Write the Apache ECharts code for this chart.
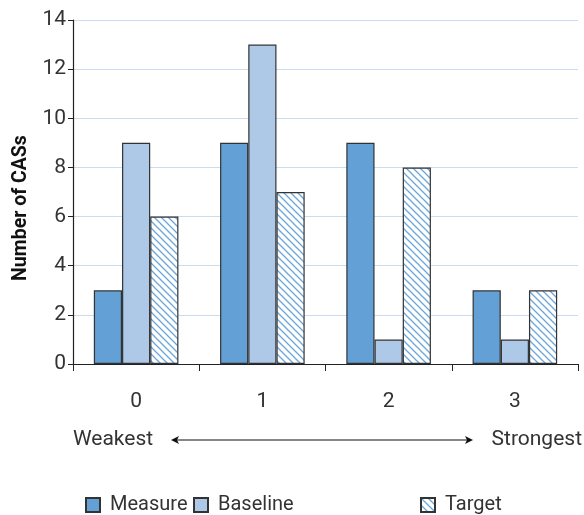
<!DOCTYPE html>
<html>
<head>
<meta charset="utf-8">
<script src="https://cdn.jsdelivr.net/npm/echarts@6/dist/echarts.min.js"></script>
<style>
  html, body { margin: 0; padding: 0; background: #fff; }
  #chart { width: 584px; height: 515px; }
</style>
</head>
<body>
<div id="chart"></div>
<script>
// Number of CASs per strength level
const categories = ['0', '1', '2', '3'];
const measureValues = [3, 9, 9, 3];
const baselineValues = [9, 13, 1, 1];
const targetValues = [6, 7, 8, 3];
const yTicks = { min: 0, max: 14, interval: 2 };

const FONT = 'Roboto, "Liberation Sans", sans-serif';
const FS = 21;

// Diagonal hatch tile for the Target series
function hatchTile() {
  const s = 7;
  const c = document.createElement('canvas');
  c.width = s; c.height = s;
  const g = c.getContext('2d');
  g.fillStyle = '#ffffff';
  g.fillRect(0, 0, s, s);
  g.strokeStyle = '#6aa6dc';
  g.lineWidth = 1.3;
  g.beginPath();
  g.moveTo(-1, -1); g.lineTo(s + 1, s + 1);
  g.moveTo(-1 - s, -1); g.lineTo(1, s + 1);
  g.moveTo(s - 1, -1); g.lineTo(2 * s + 1, s + 1);
  g.stroke();
  return c;
}

const chart = echarts.init(document.getElementById('chart'), null, { renderer: 'canvas' });
const hatch = { image: hatchTile(), repeat: 'repeat' };
const border = { borderColor: '#333333', borderWidth: 1.2 };

const legendBase = {
  top: 495,
  padding: 0,
  icon: 'rect',
  itemWidth: 14,
  itemHeight: 14,
  itemGap: 10,
  textStyle: { fontFamily: FONT, fontSize: 20, color: '#333', padding: [0, 0, 0, 5] }
};

chart.setOption({
  animation: false,
  textStyle: { fontFamily: FONT },
  grid: { left: 73, right: 6, top: 20, bottom: 151, containLabel: false, outerBoundsMode: 'none' },
  legend: [
    Object.assign({}, legendBase, { left: 85, data: ['Measure'] }),
    Object.assign({}, legendBase, { left: 193, data: ['Baseline'] }),
    Object.assign({}, legendBase, { left: 420, data: ['Target'] })
  ],
  xAxis: {
    type: 'category',
    data: categories,
    axisLine: { lineStyle: { color: '#222', width: 1.2 } },
    axisTick: { show: true, length: 7, inside: false, lineStyle: { color: '#222' } },
    axisLabel: { fontSize: FS, color: '#333', margin: 27, fontFamily: FONT }
  },
  yAxis: {
    type: 'value',
    min: yTicks.min,
    max: yTicks.max,
    interval: yTicks.interval,
    name: 'Number of CASs',
    nameLocation: 'middle',
    nameGap: 39,
    nameTextStyle: { fontSize: 19.5, fontWeight: 'bold', color: '#111', fontFamily: FONT, padding: [0, 32, 0, 0] },
    axisLine: { show: true, lineStyle: { color: '#222', width: 1.2 } },
    axisTick: { show: true, length: 5, lineStyle: { color: '#222' } },
    axisLabel: { fontSize: FS, color: '#333', margin: 7, fontFamily: FONT },
    splitLine: { lineStyle: { color: '#c9dcf0', width: 1.2 } }
  },
  series: [
    {
      name: 'Measure', type: 'bar', data: measureValues,
      barGap: '0%', barCategoryGap: '33%',
      itemStyle: Object.assign({ color: '#62a0d6' }, border)
    },
    {
      name: 'Baseline', type: 'bar', data: baselineValues,
      barGap: '0%', barCategoryGap: '33%',
      itemStyle: Object.assign({ color: '#aec8e7' }, border)
    },
    {
      name: 'Target', type: 'bar', data: targetValues,
      barGap: '0%', barCategoryGap: '33%',
      itemStyle: Object.assign({ color: hatch }, border)
    }
  ],
  graphic: [
    { type: 'text', left: 73, top: 429, style: { text: 'Weakest', fontSize: FS, fontFamily: FONT, fill: '#333' } },
    { type: 'text', right: 2, top: 429, style: { text: 'Strongest', fontSize: FS, fontFamily: FONT, fill: '#333' } },
    { type: 'line', shape: { x1: 176, y1: 440, x2: 468, y2: 440 }, style: { stroke: '#111', lineWidth: 1.2 } },
    { type: 'polygon', shape: { points: [[171, 440], [179, 436], [177, 440], [179, 444]] }, style: { fill: '#111' } },
    { type: 'polygon', shape: { points: [[473, 440], [465, 436], [467, 440], [465, 444]] }, style: { fill: '#111' } }
  ]
});
</script>
</body>
</html>
